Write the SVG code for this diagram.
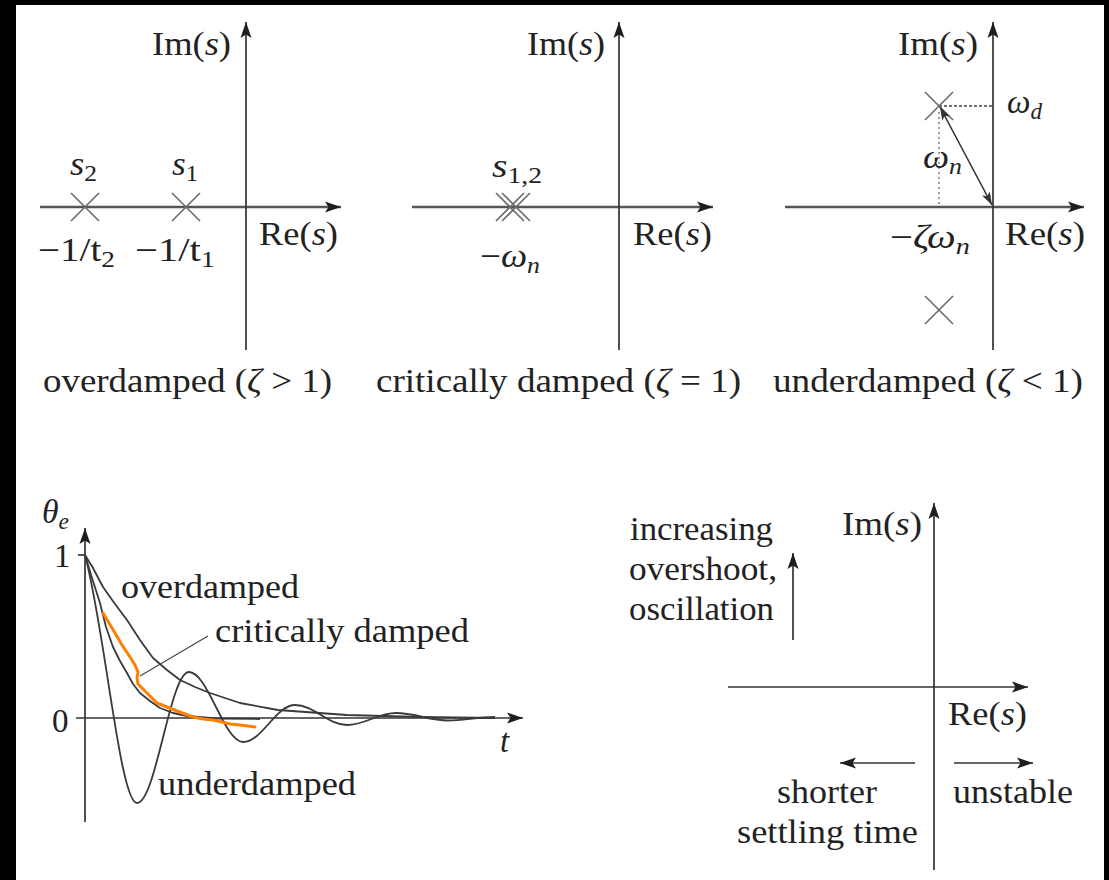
<svg xmlns="http://www.w3.org/2000/svg" width="1109" height="880" viewBox="0 0 1109 880">
<defs>
<style>
.t{font-family:"Liberation Serif","DejaVu Serif",serif;font-size:33px;fill:#222}
.i{font-style:italic}
.sub{font-size:23px}
.ax{stroke:#333;stroke-width:1.7;fill:none}
.axr{stroke:#555;stroke-width:2.4;fill:none}
.cr{stroke:#6a6a6a;stroke-width:1.6;fill:none}
.cv{stroke:#3a3a3a;stroke-width:1.8;fill:none;stroke-linejoin:round}
</style>
<marker id="ah" markerUnits="userSpaceOnUse" markerWidth="18" markerHeight="12" refX="16" refY="6" orient="auto" overflow="visible">
<path d="M0,0.5 L16,6 L0,11.5 L3.5,6 z" fill="#1e1e1e"/>
</marker>
<marker id="ahs" markerUnits="userSpaceOnUse" markerWidth="15" markerHeight="10" refX="13" refY="5" orient="auto-start-reverse" overflow="visible">
<path d="M0,0.6 L13,5 L0,9.4 L3,5 z" fill="#333"/>
</marker>
</defs>
<rect x="0" y="0" width="1109" height="880" fill="#000"/>
<rect x="16" y="5" width="1088" height="875" fill="#fff"/>

<g id="panel-overdamped">
<line class="axr" x1="40" y1="207" x2="341" y2="207" marker-end="url(#ah)"/>
<line class="ax" x1="246" y1="350" x2="246" y2="22" marker-end="url(#ah)"/>
<path class="cr" d="M71,193 L99,221 M71,221 L99,193 M172,193 L200,221 M172,221 L200,193"/>
<text class="t" x="152" y="55" textLength="79" lengthAdjust="spacingAndGlyphs">Im(<tspan class="i">s</tspan>)</text>
<text class="t" x="70" y="175" textLength="27" lengthAdjust="spacingAndGlyphs"><tspan class="i">s</tspan><tspan class="sub" dy="6">2</tspan></text>
<text class="t" x="172" y="175" textLength="26" lengthAdjust="spacingAndGlyphs"><tspan class="i">s</tspan><tspan class="sub" dy="6">1</tspan></text>
<text class="t" x="38" y="261" textLength="77" lengthAdjust="spacingAndGlyphs">−1/t<tspan class="sub" dy="6">2</tspan></text>
<text class="t" x="135" y="261" textLength="80" lengthAdjust="spacingAndGlyphs">−1/t<tspan class="sub" dy="6">1</tspan></text>
<text class="t" x="259" y="245" textLength="79" lengthAdjust="spacingAndGlyphs">Re(<tspan class="i">s</tspan>)</text>
<text class="t" x="43" y="392" textLength="289" lengthAdjust="spacingAndGlyphs">overdamped (<tspan class="i">ζ</tspan> &gt; 1)</text>
</g>

<g id="panel-critical">
<line class="axr" x1="412" y1="207" x2="713" y2="207" marker-end="url(#ah)"/>
<line class="ax" x1="619" y1="350" x2="619" y2="22" marker-end="url(#ah)"/>
<path class="cr" d="M496,193 L524,221 M496,221 L524,193 M502,193 L530,221 M502,221 L530,193" stroke-width="1.3"/>
<text class="t" x="527" y="55" textLength="78" lengthAdjust="spacingAndGlyphs">Im(<tspan class="i">s</tspan>)</text>
<text class="t" x="492" y="177" textLength="50" lengthAdjust="spacingAndGlyphs"><tspan class="i">s</tspan><tspan class="sub" dy="6">1,2</tspan></text>
<text class="t" x="480" y="267" textLength="60" lengthAdjust="spacingAndGlyphs">−<tspan class="i">ω</tspan><tspan class="sub i" dy="6">n</tspan></text>
<text class="t" x="633" y="245" textLength="79" lengthAdjust="spacingAndGlyphs">Re(<tspan class="i">s</tspan>)</text>
<text class="t" x="376" y="392" textLength="365" lengthAdjust="spacingAndGlyphs">critically damped (<tspan class="i">ζ</tspan> = 1)</text>
</g>

<g id="panel-underdamped">
<line class="axr" x1="785" y1="207" x2="1084" y2="207" marker-end="url(#ah)"/>
<line class="ax" x1="993" y1="350" x2="993" y2="22" marker-end="url(#ah)"/>
<line x1="939" y1="106" x2="993" y2="106" stroke="#444" stroke-width="1.4" stroke-dasharray="3,2"/>
<line x1="939" y1="112" x2="939" y2="207" stroke="#888" stroke-width="1.6" stroke-dasharray="2,3"/>
<path class="cr" d="M925,92 L953,120 M925,120 L953,92 M925,296 L953,324 M925,324 L953,296"/>
<line x1="940" y1="107" x2="992" y2="205" stroke="#333" stroke-width="1.6" marker-start="url(#ahs)" marker-end="url(#ahs)"/>
<text class="t" x="898" y="55" textLength="80" lengthAdjust="spacingAndGlyphs">Im(<tspan class="i">s</tspan>)</text>
<text class="t" x="1007" y="113" textLength="35" lengthAdjust="spacingAndGlyphs"><tspan class="i">ω</tspan><tspan class="sub i" dy="6">d</tspan></text>
<text class="t" x="923" y="168" textLength="39" lengthAdjust="spacingAndGlyphs"><tspan class="i">ω</tspan><tspan class="sub i" dy="6">n</tspan></text>
<text class="t" x="890" y="248" textLength="80" lengthAdjust="spacingAndGlyphs">−<tspan class="i">ζω</tspan><tspan class="sub i" dy="6">n</tspan></text>
<text class="t" x="1005" y="245" textLength="80" lengthAdjust="spacingAndGlyphs">Re(<tspan class="i">s</tspan>)</text>
<text class="t" x="773" y="392" textLength="310" lengthAdjust="spacingAndGlyphs">underdamped (<tspan class="i">ζ</tspan> &lt; 1)</text>
</g>

<g id="plot-response">
<line class="ax" x1="76" y1="718" x2="523" y2="718" marker-end="url(#ah)"/>
<line class="ax" x1="85" y1="822" x2="85" y2="528" marker-end="url(#ah)"/>
<line class="ax" x1="78" y1="555" x2="85" y2="555"/>
<polyline class="cv" points="85,555 93,568 103,587 115,604 127,620 140,640 153,658 167,670 180,680 195,687 210,693 240,703 278,710 347,715 420,717 495,718"/>
<polyline class="cv" points="85,555 92,578 100,603 106,627 113,647 120,661 127,673 133,684 140,693 150,701 160,708 173,713 187,716 217,718.5 260,719"/>
<path class="cv" d="M85,555 C105,630 120,803 137,803 C156,803 170,672 189,672 C208,672 224,742 243,742 C262,742 276,705 295,705 C314,705 328,725 347,725 C365,725 378,713 396,713 C414,713 430,720.5 448,720.5 C463,720.5 478,717 495,717"/>
<line x1="140" y1="676" x2="208" y2="636" stroke="#444" stroke-width="1.2"/>
<polyline points="103,613 109,623 115,633 122,645 130,657 135,665 138,672 137,678 138,684 143,689 147,693 152,698 157,703 162,705 167,707 177,711 185,714 193,717 203,719 213,720 222,722 230,724 240,725 248,726 255,727" fill="none" stroke="#ff8000" stroke-width="3" stroke-linecap="round" stroke-linejoin="round"/>
<text class="t" x="42" y="523" textLength="27" lengthAdjust="spacingAndGlyphs"><tspan class="i">θ</tspan><tspan class="sub i" dy="6">e</tspan></text>
<text class="t" x="54" y="567">1</text>
<text class="t" x="52" y="732">0</text>
<text class="t i" x="500" y="752">t</text>
<text class="t" x="121" y="598" textLength="178" lengthAdjust="spacingAndGlyphs">overdamped</text>
<text class="t" x="215" y="642" textLength="254" lengthAdjust="spacingAndGlyphs">critically damped</text>
<text class="t" x="158" y="795" textLength="198" lengthAdjust="spacingAndGlyphs">underdamped</text>
</g>

<g id="plot-regions">
<line class="ax" x1="728" y1="687" x2="1028" y2="687" marker-end="url(#ah)"/>
<line class="ax" x1="934" y1="870" x2="934" y2="503" marker-end="url(#ah)"/>
<line class="ax" x1="793" y1="640" x2="793" y2="553" marker-end="url(#ah)"/>
<line class="ax" x1="915" y1="763" x2="840" y2="763" marker-end="url(#ah)"/>
<line class="ax" x1="954" y1="763" x2="1033" y2="763" marker-end="url(#ah)"/>
<text class="t" x="842" y="535" textLength="80" lengthAdjust="spacingAndGlyphs">Im(<tspan class="i">s</tspan>)</text>
<text class="t" x="948" y="725" textLength="79" lengthAdjust="spacingAndGlyphs">Re(<tspan class="i">s</tspan>)</text>
<text class="t" x="630" y="540" textLength="143" lengthAdjust="spacingAndGlyphs">increasing</text>
<text class="t" x="629" y="580" textLength="148" lengthAdjust="spacingAndGlyphs">overshoot,</text>
<text class="t" x="629" y="620" textLength="145" lengthAdjust="spacingAndGlyphs">oscillation</text>
<text class="t" x="777" y="803" textLength="100" lengthAdjust="spacingAndGlyphs">shorter</text>
<text class="t" x="737" y="843" textLength="181" lengthAdjust="spacingAndGlyphs">settling time</text>
<text class="t" x="953" y="803" textLength="120" lengthAdjust="spacingAndGlyphs">unstable</text>
</g>
</svg>
